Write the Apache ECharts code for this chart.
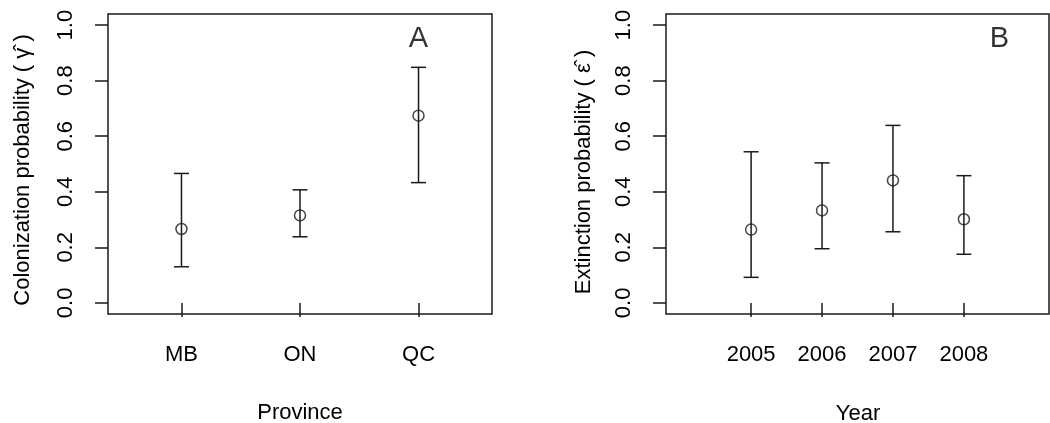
<!DOCTYPE html>
<html>
<head>
<meta charset="utf-8">
<script src="https://cdn.jsdelivr.net/npm/echarts@6/dist/echarts.min.js"></script>
<style>
html, body { margin: 0; padding: 0; background: #fff; }
#chart { width: 1050px; height: 423px; }
</style>
</head>
<body>
<div id="chart"></div>
<script>
// panel A: colonization by province
var provinces = ["MB", "ON", "QC"]
var provPos = [1, 2, 3]
var colEst = [0.266, 0.315, 0.674]
var colLow = [0.130, 0.238, 0.433]
var colHigh = [0.466, 0.407, 0.848]

// panel B: extinction by year
var years = [2005, 2006, 2007, 2008]
var extEst = [0.264, 0.333, 0.441, 0.301]
var extLow = [0.092, 0.195, 0.256, 0.175]
var extHigh = [0.544, 0.504, 0.639, 0.458]

var yTicks = [0, 0.2, 0.4, 0.6, 0.8, 1.0]
var panelLetters = ["A", "B"]
var letterPos = [[3, 0.95], [2008.5, 0.95]]

var ink = "#1a1a1a"
var txt = "#000"
var font = "Liberation Sans"

var chart = echarts.init(document.getElementById("chart"))

function errorBar(params, api) {
    var x = api.value(0)
    var lo = api.coord([x, api.value(1)])
    var hi = api.coord([x, api.value(2)])
    var w = 7.5
    var st = { stroke: ink, lineWidth: 1.5 }
    return {
        type: "group",
        children: [
            { type: "line", shape: { x1: lo[0], y1: lo[1], x2: hi[0], y2: hi[1] }, style: st },
            { type: "line", shape: { x1: lo[0] - w, y1: lo[1], x2: lo[0] + w, y2: lo[1] }, style: st },
            { type: "line", shape: { x1: hi[0] - w, y1: hi[1], x2: hi[0] + w, y2: hi[1] }, style: st }
        ]
    }
}

function xAxisFor(idx, min, max, ticks, fmt) {
    return {
        type: "value", gridIndex: idx, min: min, max: max,
        axisLine: { show: false },
        splitLine: { show: false },
        axisTick: { show: true, inside: false, length: 14, customValues: ticks, lineStyle: { color: ink, width: 1.5 } },
        axisLabel: { customValues: ticks, margin: 30, fontSize: 22, fontFamily: font, color: txt, formatter: fmt }
    }
}

function yAxisFor(idx) {
    return {
        type: "value", gridIndex: idx, min: -0.04, max: 1.04,
        axisLine: { show: false },
        splitLine: { show: false },
        axisTick: { show: true, inside: false, length: 13, customValues: yTicks, lineStyle: { color: ink, width: 1.5 } },
        axisLabel: {
            customValues: yTicks, rotate: 90, margin: 31, fontSize: 22, fontFamily: font, color: txt,
            formatter: function (v) { return v.toFixed(1) }
        }
    }
}

var colBars = provPos.map(function (p, i) { return [p, colLow[i], colHigh[i]] })
var colPts = provPos.map(function (p, i) { return [p, colEst[i]] })
var extBars = years.map(function (y, i) { return [y, extLow[i], extHigh[i]] })
var extPts = years.map(function (y, i) { return [y, extEst[i]] })

var pointStyle = { color: "transparent", borderColor: ink, borderWidth: 1.5 }
var letterLabel = {
    show: true, position: "inside", fontSize: 29, fontFamily: font, color: txt,
    formatter: function (p) { return p.name }
}

var option = {
    animation: false,
    backgroundColor: "#fff",
    grid: [
        { left: 108, top: 14, width: 384, height: 300, show: true, borderColor: ink, borderWidth: 1.5, backgroundColor: "transparent" },
        { left: 666, top: 14, width: 383, height: 300, show: true, borderColor: ink, borderWidth: 1.5, backgroundColor: "transparent" }
    ],
    xAxis: [
        xAxisFor(0, 0.38, 3.62, provPos, function (v) { return provinces[provPos.indexOf(v)] }),
        xAxisFor(1, 2003.8, 2009.2, years, function (v) { return String(v) })
    ],
    yAxis: [yAxisFor(0), yAxisFor(1)],
    graphic: [
        { type: "text", x: 23, y: 170, rotation: Math.PI / 2,
          style: { text: "Colonization probability ( \u03B3\u0302 )", font: "22px '" + font + "'", fill: txt, align: "center", verticalAlign: "middle" } },
        { type: "text", x: 584, y: 172, rotation: Math.PI / 2,
          style: { text: "Extinction probability ( \u03B5\u0302 )", font: "22px '" + font + "'", fill: txt, align: "center", verticalAlign: "middle" } },
        { type: "text", x: 300, y: 413,
          style: { text: "Province", font: "22px '" + font + "'", fill: txt, align: "center", verticalAlign: "middle" } },
        { type: "text", x: 858, y: 414,
          style: { text: "Year", font: "22px '" + font + "'", fill: txt, align: "center", verticalAlign: "middle" } }
    ],
    series: [
        { type: "custom", xAxisIndex: 0, yAxisIndex: 0, renderItem: errorBar, encode: { x: 0, y: [1, 2] }, data: colBars },
        { type: "scatter", xAxisIndex: 0, yAxisIndex: 0, symbol: "circle", symbolSize: 11, itemStyle: pointStyle, data: colPts, z: 3 },
        { type: "custom", xAxisIndex: 1, yAxisIndex: 1, renderItem: errorBar, encode: { x: 0, y: [1, 2] }, data: extBars },
        { type: "scatter", xAxisIndex: 1, yAxisIndex: 1, symbol: "circle", symbolSize: 11, itemStyle: pointStyle, data: extPts, z: 3 },
        { type: "scatter", xAxisIndex: 0, yAxisIndex: 0, symbolSize: 0, label: letterLabel,
          data: [{ name: panelLetters[0], value: letterPos[0] }] },
        { type: "scatter", xAxisIndex: 1, yAxisIndex: 1, symbolSize: 0, label: letterLabel,
          data: [{ name: panelLetters[1], value: letterPos[1] }] }
    ]
}
chart.setOption(option)
</script>
</body>
</html>
